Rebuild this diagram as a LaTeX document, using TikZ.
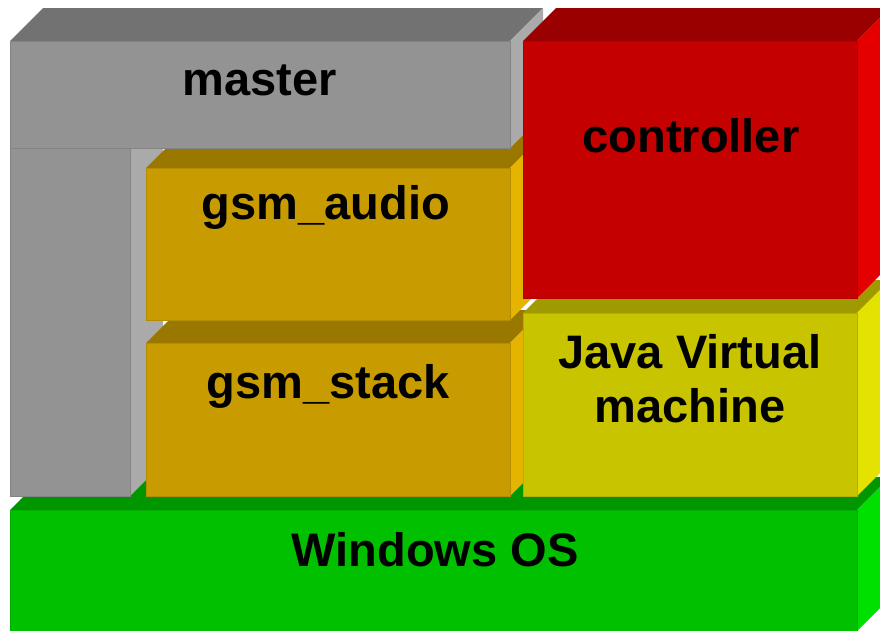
\documentclass[tikz,border=0pt]{standalone}
\usepackage{fontspec}
\setmainfont{Liberation Sans}
\definecolor{grF}{RGB}{147,147,147}
\definecolor{grT}{RGB}{114,114,114}
\definecolor{grS}{RGB}{170,170,170}
\definecolor{rdF}{RGB}{196,0,0}
\definecolor{rdT}{RGB}{154,0,0}
\definecolor{rdS}{RGB}{228,0,0}
\definecolor{gdF}{RGB}{200,156,0}
\definecolor{gdT}{RGB}{154,120,0}
\definecolor{gdS}{RGB}{228,180,0}
\definecolor{ylF}{RGB}{200,196,0}
\definecolor{ylT}{RGB}{158,154,0}
\definecolor{ylS}{RGB}{228,226,0}
\definecolor{gnF}{RGB}{0,192,0}
\definecolor{gnT}{RGB}{0,150,0}
\definecolor{gnS}{RGB}{0,224,0}
\newcommand\mycuboid[7]{%
  \fill[#6] (#1,#2) -- ++(33,-33) -- (#3+33,#2-33) -- (#3,#2) -- cycle;
  \fill[#7] (#3,#2) -- ++(33,-33) -- (#3+33,#4-33) -- (#3,#4) -- cycle;
  \fill[#5] (#1,#2) rectangle (#3,#4);
  \draw[#5!90!black, line width=0.6pt] (#1,#2) rectangle (#3,#4);
}
\tikzset{lbl/.style={font=\fontsize{47}{54}\selectfont\bfseries, text=black, inner sep=0pt, anchor=base, align=center}}
\begin{document}
\begin{tikzpicture}[x=1pt,y=-1pt]
\useasboundingbox (0,0) rectangle (880,630);
\clip (0,0) rectangle (880,630);
% Windows OS
\mycuboid{10}{510}{857}{631}{gnF}{gnT}{gnS}
% master vertical bar
\mycuboid{10}{148}{130}{496}{grF}{grT}{grS}
% gsm_stack
\mycuboid{146}{343}{510}{496}{gdF}{gdT}{gdS}
% gsm_audio
\mycuboid{146}{168}{510}{320}{gdF}{gdT}{gdS}
% master top bar
\mycuboid{10}{41}{510}{148}{grF}{grT}{grS}
% Java VM
\mycuboid{523}{313}{857}{496}{ylF}{ylT}{ylS}
% controller
\mycuboid{523}{41}{857}{298}{rdF}{rdT}{rdS}
% labels
\node[lbl] (master) at (260,95) {master};
\node[lbl] (controller) at (691,152) {controller};
\node[lbl] (audio) at (326,219) {gsm\_audio};
\node[lbl] (stack) at (328,398) {gsm\_stack};
\node[lbl] (jvm1) at (690,368) {Java Virtual};
\node[lbl] (jvm2) at (690,422) {machine};
\node[lbl] (win) at (435,566) {Windows OS};
\end{tikzpicture}
\end{document}
